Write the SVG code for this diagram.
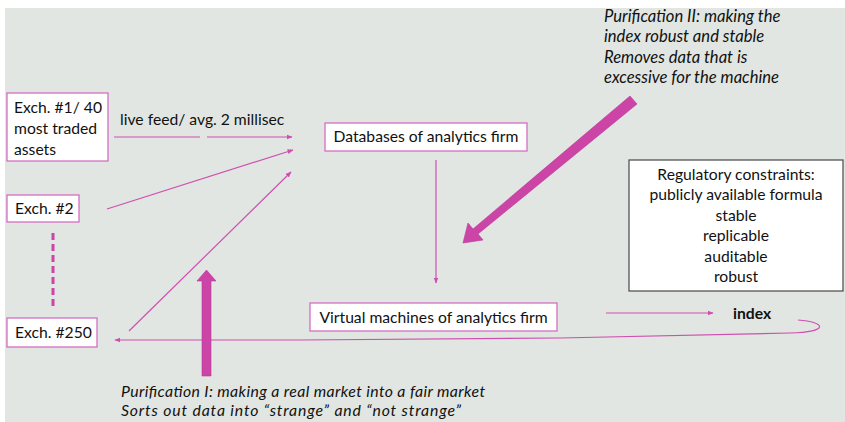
<svg xmlns="http://www.w3.org/2000/svg" width="845" height="422" viewBox="0 0 845 422">
  <defs>
    <marker id="tip" viewBox="0 0 10 10" refX="9" refY="5" markerWidth="6" markerHeight="6" orient="auto" markerUnits="userSpaceOnUse">
      <path d="M0,1 L10,5 L0,9 Z" fill="#cf4fb0"/>
    </marker>
    <style>
      .box { fill: #ffffff; stroke: #d56fc2; stroke-width: 1.3; }
      .reg { fill: #ffffff; stroke: #555555; stroke-width: 1.3; }
      .t { font-family: Lato, "Open Sans", "Liberation Sans", sans-serif; font-size: 15.7px; fill: #111111; }
      .it { font-style: italic; font-size: 16.6px; }
      .foot { font-size: 15.8px; }
      .line { fill: none; stroke: #cf4fb0; stroke-width: 1.2; }
      .fat { fill: #cc44a6; stroke: #b8359a; stroke-width: 0.6; }
    </style>
  </defs>

  <rect x="0" y="0" width="845" height="422" fill="#ffffff"/>
  <rect x="5" y="8" width="840" height="414" fill="#e1e6e2"/>

  <!-- connectors -->
  <g id="connectors">
    <line class="line" x1="114" y1="137" x2="200" y2="137"/>
    <line class="line" x1="207" y1="137" x2="292" y2="137" marker-end="url(#tip)"/>
    <line class="line" x1="107" y1="209" x2="293" y2="150" marker-end="url(#tip)"/>
    <line class="line" x1="129" y1="331" x2="291" y2="172" marker-end="url(#tip)" stroke-width="0.9"/>
    <line x1="53" y1="233" x2="53" y2="309" stroke="#cc44a6" stroke-width="3" stroke-dasharray="7,4"/>
    <line class="line" x1="436" y1="160" x2="436" y2="283" marker-end="url(#tip)"/>
    <line class="line" x1="606" y1="313" x2="713" y2="313" marker-end="url(#tip)"/>
    <path class="line" d="M798,320 C826,322 830,332 790,333 L560,338 L300,340 L115,340" marker-end="url(#tip)" stroke-width="1.5"/>
    <!-- broad arrows -->
    <polygon class="fat" points="202,376 211,376 211,281 216,281 206.5,270 197,281 202,281"/>
    <polygon class="fat" points="637,104 630,96 473,229 468,223 463,243 483,240 478,234"/>
  </g>

  <g id="exch1">
    <rect class="box" x="7" y="93" width="101" height="68"/>
    <text class="t" x="14" y="113">Exch. #1/ 40</text>
    <text class="t" x="14" y="134">most traded</text>
    <text class="t" x="14" y="155">assets</text>
  </g>
  <text class="t" x="120" y="125">live feed/ avg. 2 millisec</text>

  <g id="exch2">
    <rect class="box" x="7" y="195" width="72" height="27"/>
    <text class="t" x="15" y="214">Exch. #2</text>
  </g>

  <g id="exch250">
    <rect class="box" x="7" y="318" width="90" height="29"/>
    <text class="t" x="15" y="338">Exch. #250</text>
  </g>

  <g id="databases">
    <rect class="box" x="325" y="123" width="202" height="28"/>
    <text class="t" x="426" y="142" text-anchor="middle">Databases of analytics firm</text>
  </g>

  <g id="virtual">
    <rect class="box" x="310" y="303" width="247" height="28"/>
    <text class="t" x="433.5" y="323" text-anchor="middle">Virtual machines of analytics firm</text>
  </g>

  <g id="index">
    <text class="t" x="733" y="319" font-weight="bold">index</text>
  </g>

  <g id="regulatory">
    <rect class="reg" x="629" y="160" width="214" height="131"/>
    <text class="t" x="736" y="180" text-anchor="middle">Regulatory constraints:</text>
    <text class="t" x="736" y="200" text-anchor="middle">publicly available formula</text>
    <text class="t" x="736" y="221" text-anchor="middle">stable</text>
    <text class="t" x="736" y="241" text-anchor="middle">replicable</text>
    <text class="t" x="736" y="262" text-anchor="middle">auditable</text>
    <text class="t" x="736" y="282" text-anchor="middle">robust</text>
  </g>

  <g id="purification2">
    <text class="t it" x="604" y="22">Purification II: making the</text>
    <text class="t it" x="604" y="42">index robust and stable</text>
    <text class="t it" x="604" y="63">Removes data that is</text>
    <text class="t it" x="604" y="83">excessive for the machine</text>
  </g>

  <g id="purification1">
    <text class="t it foot" x="121" y="397" textLength="364" lengthAdjust="spacing">Purification I: making a real market into a fair market</text>
    <text class="t it foot" x="121" y="416" textLength="340" lengthAdjust="spacing">Sorts out data into “strange” and “not strange”</text>
  </g>
</svg>
